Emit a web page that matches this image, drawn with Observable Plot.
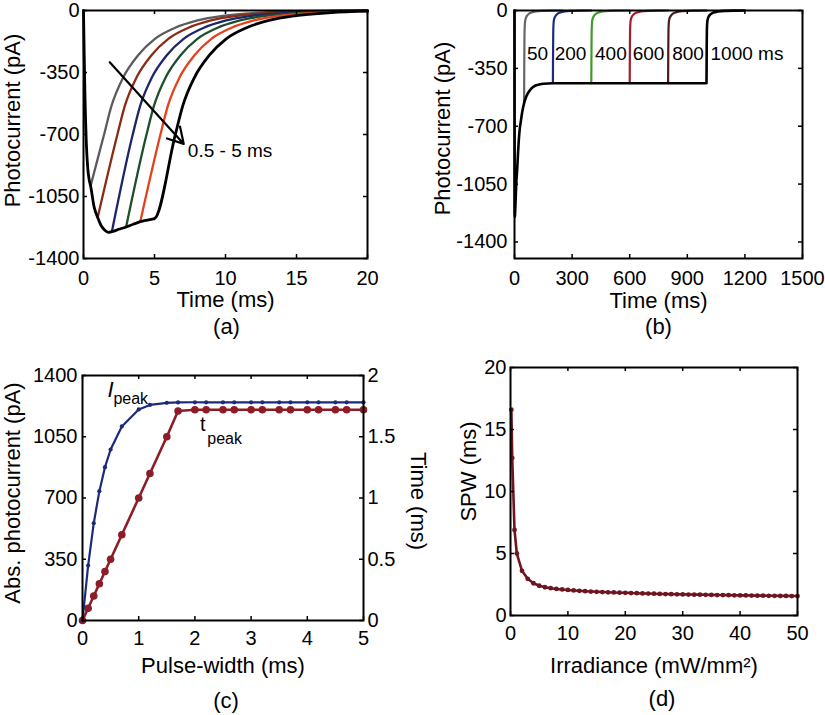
<!DOCTYPE html>
<html><head><meta charset="utf-8">
<script src="https://cdn.jsdelivr.net/npm/d3@7"></script>
<script src="https://cdn.jsdelivr.net/npm/@observablehq/plot@0.6"></script>
<style>
body{margin:0;background:#fff;}
#root{position:relative;width:825px;height:715px;overflow:hidden;background:#fff;}
.panel{position:absolute;}
</style></head><body><div id="root"></div>
<script>
// ---------- Panel (a) data ----------
const aXTicks = [0, 5, 10, 15, 20];
const aYTicks = [0, -350, -700, -1050, -1400];
const aEnvT = [0, 0.05, 0.1, 0.15, 0.2, 0.3, 0.4, 0.5, 0.75, 1.0, 1.25, 1.5, 1.75, 2.0, 2.5, 3.0, 3.5, 4.0, 4.5, 5.0];
const aEnvI = [0, -250, -470, -630, -750, -890, -955, -990, -1110, -1168, -1215, -1240, -1252, -1248, -1235, -1222, -1207, -1192, -1183, -1175];
const aColors = ["#5b5b5b", "#8b2b14", "#1d2668", "#1f4e2c", "#e2431c", "#000000"];
const aDecayT = [
  [0.5, 1.43, 1.98, 2.8, 3.83, 5.03, 6.38, 8.03, 9.83, 12.43, 14.93, 20],
  [1, 2.37, 2.92, 3.74, 4.77, 5.97, 7.32, 8.97, 10.77, 13.37, 15.87, 20],
  [2, 3.45, 4.0, 4.82, 5.85, 7.05, 8.4, 10.05, 11.85, 14.45, 16.95, 20],
  [3, 4.42, 4.97, 5.79, 6.82, 8.02, 9.37, 11.02, 12.82, 15.42, 17.92, 20],
  [4, 5.4, 5.95, 6.77, 7.8, 9.0, 10.35, 12.0, 13.8, 16.4, 18.9, 20],
  [5, 6.45, 7.0, 7.82, 8.85, 10.05, 11.4, 13.05, 14.85, 17.45, 20]
];
const aDecayI = [
  [-990, -706, -536, -377, -254, -160, -100, -56, -30, -12, -4, 0],
  [-1168, -706, -536, -377, -254, -160, -100, -56, -30, -12, -4, -0.5],
  [-1248, -706, -536, -377, -254, -160, -100, -56, -30, -12, -4, -1.5],
  [-1222, -706, -536, -377, -254, -160, -100, -56, -30, -12, -4, -2.5],
  [-1192, -706, -536, -377, -254, -160, -100, -56, -30, -12, -4, -3],
  [-1175, -706, -536, -377, -254, -160, -100, -56, -30, -12, -4]
];
const aArrowFrom = [1.85, -292];
const aArrowTo = [7.06, -753];
const aNote = {t: 7.35, I: -790, text: "0.5 - 5 ms"};

// ---------- Panel (b) data ----------
const bXTicks = [0, 300, 600, 900, 1200, 1500];
const bYTicks = [0, -350, -700, -1050, -1400];
const bOnT = [0, 1, 2, 4, 7, 10, 14, 18, 22, 27, 33, 40, 50, 60, 70, 85, 100, 120, 150, 200, 1000];
const bOnI = [0, -1250, -1245, -1200, -1110, -1030, -960, -870, -790, -720, -670, -615, -560, -525, -500, -475, -460, -450, -443, -440, -440];
const bPulses = [50, 200, 400, 600, 800, 1000];
const bColors = ["#666666", "#1f2a7c", "#3f9a2c", "#a11d2f", "#4e1a1c", "#000000"];
const bOffDt = [0, 1, 2, 4, 7, 12, 20, 35, 60, 100, 150, 200];
const bOffI = [
  [-560, -300, -150, -80, -55, -38, -25, -13, -6, -2, -0.5, 0],
  [-440, -230, -120, -70, -50, -36, -24, -13, -6, -2, -0.5, 0],
  [-440, -230, -120, -70, -50, -36, -24, -13, -6, -2, -0.5, 0],
  [-440, -230, -120, -70, -50, -36, -24, -13, -6, -2, -0.5, 0],
  [-440, -230, -120, -70, -50, -36, -24, -13, -6, -2, -0.5, 0],
  [-440, -230, -120, -70, -50, -36, -24, -13, -6, -2, -0.5, 0]
];
const bLabels = ["50", "200", "400", "600", "800"];
const bLabelT = [120, 292, 502, 698, 904];
const bLastLabel = {s: "1000 ms", t: 1021};
const bLabelI = -262;

// ---------- Panel (c) data ----------
const cXTicks = [0, 1, 2, 3, 4, 5];
const cLeftTicks = [0, 350, 700, 1050, 1400];
const cRightTicks = [0, 0.5, 1, 1.5, 2];
const cPW = [0, 0.1, 0.2, 0.3, 0.4, 0.5, 0.7, 1.0, 1.2, 1.5, 1.7, 2.0, 2.2, 2.5, 2.7, 3.0, 3.2, 3.5, 3.7, 4.0, 4.2, 4.5, 4.7, 5.0];
const cIpeak = [0, 314, 556, 739, 876, 977, 1109, 1206, 1232, 1244, 1246, 1247, 1247, 1247, 1247, 1247, 1247, 1247, 1247, 1247, 1247, 1247, 1247, 1247];
const cTpeak = [0, 0.1, 0.2, 0.3, 0.4, 0.5, 0.7, 1.0, 1.2, 1.5, 1.71, 1.72, 1.72, 1.72, 1.72, 1.72, 1.72, 1.72, 1.72, 1.72, 1.72, 1.72, 1.72, 1.72];

// ---------- Panel (d) data ----------
const dXTicks = [0, 10, 20, 30, 40, 50];
const dYTicks = [0, 5, 10, 15, 20];
const dIrr = [0.15, 0.3, 0.7, 1.1, 2, 3, 4, 5, 6, 7, 8, 9, 10, 11, 12, 13, 14, 15, 16, 17, 18, 19, 20, 21, 22, 23, 24, 25, 26, 27, 28, 29, 30, 31, 32, 33, 34, 35, 36, 37, 38, 39, 40, 41, 42, 43, 44, 45, 46, 47, 48, 49, 50];
const dSPW = [16.6, 12.7, 6.9, 5.0, 3.6, 2.96, 2.6, 2.4, 2.28, 2.2, 2.14, 2.1, 2.06, 2.02, 1.99, 1.96, 1.93, 1.91, 1.89, 1.87, 1.86, 1.84, 1.83, 1.81, 1.8, 1.78, 1.77, 1.76, 1.74, 1.73, 1.72, 1.71, 1.7, 1.69, 1.68, 1.68, 1.67, 1.66, 1.65, 1.65, 1.64, 1.63, 1.62, 1.62, 1.61, 1.6, 1.6, 1.59, 1.59, 1.58, 1.58, 1.57, 1.57];

// ---------- helpers ----------
const FONT = "'Liberation Sans', Arial, Helvetica, sans-serif";
const fmt = d => String(d);
const root = document.getElementById("root");

function frameTicks(xTicks, yTicks, innerW, innerH, len = 4) {
  return [
    Plot.ruleX(xTicks, {x: d => d, insetTop: innerH - len, strokeWidth: 1.5}),
    Plot.ruleX(xTicks, {x: d => d, insetBottom: innerH - len, strokeWidth: 1.5}),
    Plot.ruleY(yTicks, {y: d => d, insetRight: innerW - len, strokeWidth: 1.5}),
    Plot.ruleY(yTicks, {y: d => d, insetLeft: innerW - len, strokeWidth: 1.5})
  ];
}
function label(text, opts) {
  return Plot.text([text], {text: d => d, fontSize: 22, lineAnchor: "middle", textAnchor: "middle", ...opts});
}
function place(plot, left, top) {
  const div = document.createElement("div");
  div.className = "panel";
  div.style.left = left + "px";
  div.style.top = top + "px";
  div.appendChild(plot);
  root.appendChild(div);
}
const baseStyle = {background: "transparent", fontFamily: FONT, fontSize: "20px", color: "#000", overflow: "visible"};

// ---------- Panel (a) ----------
{
  const W = 400, H = 345, mL = 83, mR = 33, mT = 10, mB = 87;
  const rows = [];
  aDecayT.forEach((ts, k) => ts.forEach((t, j) => rows.push({k, t, I: aDecayI[k][j]})));
  const blackRows = aEnvT.map((t, j) => ({t, I: aEnvI[j]})).concat(rows.filter(r => r.k === 5 && r.t > 5));
  const marks = [];
  for (let k = 0; k < 5; k++) {
    marks.push(Plot.line(rows.filter(r => r.k === k), {x: "t", y: "I", stroke: aColors[k], strokeWidth: 2.3, curve: "monotone-x"}));
  }
  marks.push(Plot.line(blackRows, {x: "t", y: "I", stroke: aColors[5], strokeWidth: 2.8, curve: "monotone-x"}));
  marks.push(Plot.arrow([0], {x1: () => aArrowFrom[0], y1: () => aArrowFrom[1], x2: () => aArrowTo[0], y2: () => aArrowTo[1], stroke: "#000", strokeWidth: 2.2, headLength: 12}));
  marks.push(Plot.text([aNote], {x: "t", y: "I", text: "text", textAnchor: "start", fontSize: 19}));
  marks.push(Plot.frame({stroke: "#000", strokeWidth: 2}));
  marks.push(...frameTicks(aXTicks, aYTicks, W - mL - mR, H - mT - mB));
  marks.push(Plot.axisX(aXTicks, {tickSize: 0, tickPadding: 12, tickFormat: fmt, label: null, fontSize: 20}));
  marks.push(Plot.axisY(aYTicks, {tickSize: 0, tickPadding: 4, tickFormat: fmt, label: null, fontSize: 20}));
  marks.push(label("Time (ms)", {frameAnchor: "bottom", dy: 41}));
  marks.push(label("Photocurrent (pA)", {frameAnchor: "left", rotate: -90, dx: -71, dy: -14}));
  marks.push(label("(a)", {frameAnchor: "bottom", dy: 68, dx: 1}));
  place(Plot.plot({width: W, height: H, marginLeft: mL, marginRight: mR, marginTop: mT, marginBottom: mB,
    x: {domain: [0, 20]}, y: {domain: [-1400, 0]}, style: baseStyle, marks}), 0, 0);
}

// ---------- Panel (b) ----------
{
  const W = 415, H = 345, mL = 104, mR = 23, mT = 10, mB = 87;
  const marks = [];
  bPulses.forEach((p, k) => {
    const rows = bOffDt.map((dt, j) => ({t: p + dt, I: bOffI[k][j]}));
    if (k < 5) marks.push(Plot.line(rows, {x: "t", y: "I", stroke: bColors[k], strokeWidth: 2.2, curve: "monotone-x"}));
  });
  const onRows = bOnT.map((t, j) => ({t, I: bOnI[j]}));
  const offRows = bOffDt.slice(1).map((dt, j) => ({t: bPulses[5] + dt, I: bOffI[5][j + 1]}));
  marks.push(Plot.line(onRows.concat(offRows), {x: "t", y: "I", stroke: "#000", strokeWidth: 2.6, curve: "monotone-x"}));
  marks.push(Plot.text(bLabels.map((s, k) => ({s, t: bLabelT[k]})), {x: "t", y: () => bLabelI, text: "s", textAnchor: "middle", fontSize: 19}));
  marks.push(Plot.text([bLastLabel], {x: "t", y: () => bLabelI, text: "s", textAnchor: "start", fontSize: 19}));
  marks.push(Plot.frame({stroke: "#000", strokeWidth: 2}));
  marks.push(...frameTicks(bXTicks, bYTicks, W - mL - mR, H - mT - mB));
  marks.push(Plot.axisX(bXTicks, {tickSize: 0, tickPadding: 12, tickFormat: fmt, label: null, fontSize: 20}));
  marks.push(Plot.axisY(bYTicks, {tickSize: 0, tickPadding: 7, tickFormat: fmt, label: null, fontSize: 20}));
  marks.push(label("Time (ms)", {frameAnchor: "bottom", dy: 42}));
  marks.push(label("Photocurrent (pA)", {frameAnchor: "left", rotate: -90, dx: -72, dy: -6}));
  marks.push(label("(b)", {frameAnchor: "bottom", dy: 68, dx: 0}));
  place(Plot.plot({width: W, height: H, marginLeft: mL, marginRight: mR, marginTop: mT, marginBottom: mB,
    x: {domain: [0, 1500]}, y: {domain: [-1500, 0]}, style: baseStyle, marks}), 410, 0);
}

// ---------- Panel (c) ----------
{
  const W = 430, H = 355, mL = 82, mR = 67, mT = 15, mB = 95;
  const k = cLeftTicks[cLeftTicks.length - 1] / cRightTicks[cRightTicks.length - 1];
  const rows = cPW.map((p, j) => ({p, I: cIpeak[j], T: cTpeak[j] * k}));
  const blue = "#1b2a7a", red = "#8c1c26";
  const marks = [
    Plot.line(rows, {x: "p", y: "T", stroke: red, strokeWidth: 2.6}),
    Plot.dot(rows, {x: "p", y: "T", r: 3.8, fill: red}),
    Plot.line(rows, {x: "p", y: "I", stroke: blue, strokeWidth: 2.2}),
    Plot.dot(rows, {x: "p", y: "I", r: 2.1, fill: blue}),
    Plot.text([{x: 0.5, y: 1320, s: "I"}], {x: "x", y: "y", text: "s", fontSize: 22, fontStyle: "italic"}),
    Plot.text([{x: 0.55, y: 1268, s: "peak"}], {x: "x", y: "y", text: "s", fontSize: 16, textAnchor: "start"}),
    Plot.text([{x: 2.14, y: 1117, s: "t"}], {x: "x", y: "y", text: "s", fontSize: 20}),
    Plot.text([{x: 2.22, y: 1037, s: "peak"}], {x: "x", y: "y", text: "s", fontSize: 16, textAnchor: "start"}),
    Plot.frame({stroke: "#000", strokeWidth: 2}),
    ...frameTicks(cXTicks, cLeftTicks, W - mL - mR, H - mT - mB),
    Plot.axisX(cXTicks, {tickSize: 0, tickPadding: 10, tickFormat: fmt, label: null, fontSize: 20}),
    Plot.axisY(cLeftTicks, {tickSize: 0, tickPadding: 5, tickFormat: fmt, label: null, fontSize: 20}),
    Plot.axisY(cRightTicks.map(v => v * k), {anchor: "right", tickSize: 0, tickPadding: 4, tickFormat: d => String(d / k), label: null, fontSize: 20}),
    label("Pulse-width (ms)", {frameAnchor: "bottom", dy: 45}),
    label("Abs. photocurrent (pA)", {frameAnchor: "left", rotate: -90, dx: -70, dy: -5}),
    label("Time (ms)", {frameAnchor: "right", rotate: 90, dx: 55, dy: 3}),
    label("(c)", {frameAnchor: "bottom", dy: 80, dx: 3})
  ];
  place(Plot.plot({width: W, height: H, marginLeft: mL, marginRight: mR, marginTop: mT, marginBottom: mB,
    x: {domain: [0, 5]}, y: {domain: [0, 1400]}, style: baseStyle, marks}), 0, 360);
}

// ---------- Panel (d) ----------
{
  const W = 415, H = 355, mL = 100, mR = 28, mT = 7, mB = 100;
  const rows = dIrr.map((x, j) => ({x, y: dSPW[j]}));
  const col = "#6e1520";
  const marks = [
    Plot.line(rows, {x: "x", y: "y", stroke: col, strokeWidth: 2.6}),
    Plot.dot(rows, {x: "x", y: "y", r: 2.4, fill: col}),
    Plot.frame({stroke: "#000", strokeWidth: 2}),
    ...frameTicks(dXTicks, dYTicks, W - mL - mR, H - mT - mB),
    Plot.axisX(dXTicks, {tickSize: 0, tickPadding: 10, tickFormat: fmt, label: null, fontSize: 20}),
    Plot.axisY(dYTicks, {tickSize: 0, tickPadding: 4, tickFormat: fmt, label: null, fontSize: 20}),
    label("Irradiance (mW/mm\u00B2)", {frameAnchor: "bottom", dy: 50}),
    label("SPW (ms)", {frameAnchor: "left", rotate: -90, dx: -42, dy: -20}),
    label("(d)", {frameAnchor: "bottom", dy: 83, dx: 8})
  ];
  place(Plot.plot({width: W, height: H, marginLeft: mL, marginRight: mR, marginTop: mT, marginBottom: mB,
    x: {domain: [0, 50]}, y: {domain: [0, 20]}, style: baseStyle, marks}), 410, 360);
}
</script></body></html>
